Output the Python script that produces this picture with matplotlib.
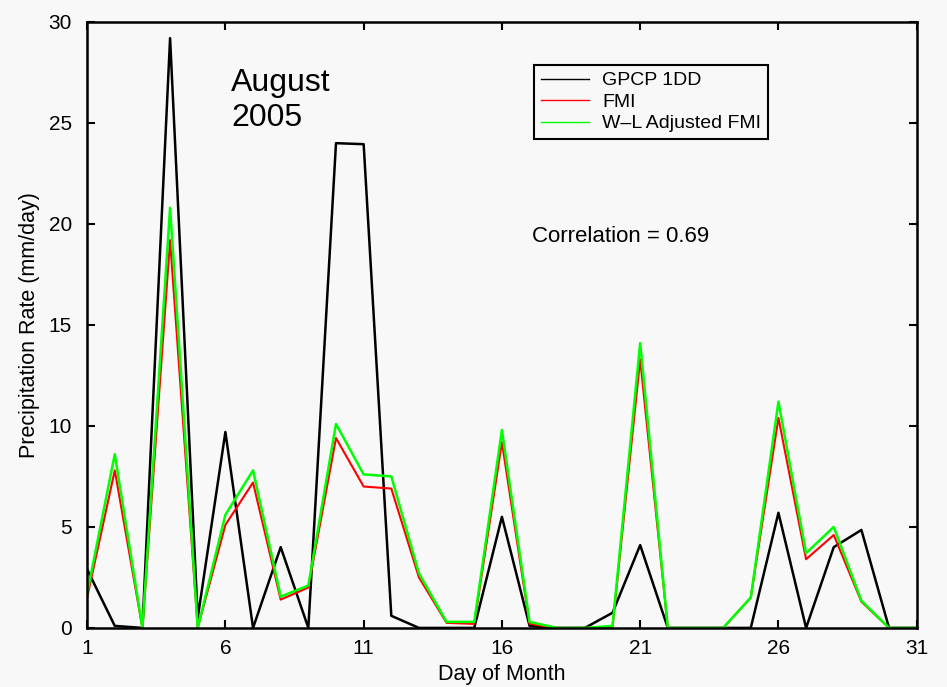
import numpy as np
import matplotlib
matplotlib.use("Agg")
import matplotlib.pyplot as plt

plt.rcParams['font.family'] = ['Liberation Sans', 'DejaVu Sans']

days = np.arange(1, 32)
gpcp = [2.9, 0.1, 0.0, 29.2, 0.5, 9.7, 0.0, 4.0, 0.0, 24.0,
        23.95, 0.6, 0.0, 0.0, 0.0, 5.5, 0.1, 0.0, 0.0, 0.75,
        4.1, 0.0, 0.0, 0.0, 0.0, 5.7, 0.0, 4.0, 4.85, 0.0, 0.0]
fmi = [1.5, 7.8, 0.0, 19.2, 0.0, 5.1, 7.2, 1.4, 2.0, 9.4,
       7.0, 6.9, 2.5, 0.25, 0.2, 9.2, 0.2, 0.0, 0.0, 0.05,
       13.3, 0.0, 0.0, 0.0, 1.5, 10.4, 3.4, 4.6, 1.3, 0.0, 0.0]
wl_fmi = [1.7, 8.6, 0.0, 20.8, 0.0, 5.6, 7.8, 1.55, 2.1, 10.1,
          7.6, 7.5, 2.7, 0.3, 0.3, 9.8, 0.3, 0.0, 0.0, 0.1,
          14.1, 0.0, 0.0, 0.0, 1.5, 11.2, 3.7, 5.0, 1.35, 0.0, 0.0]

bg = '#f8f8f8'
fig = plt.figure(figsize=(9.47, 6.87), dpi=100, facecolor=bg)
ax = fig.add_axes([0.092, 0.086, 0.876, 0.882], facecolor=bg)

ax.plot(days, gpcp, color='black', lw=1.8, label='GPCP 1DD')
ax.plot(days, fmi, color='#ff0000', lw=1.5, label='FMI')
ax.plot(days, wl_fmi, color='#00ff00', lw=1.8, label='W\u2013L Adjusted FMI')

ax.set_xlim(1, 31)
ax.set_ylim(0, 30)
ax.set_xticks([1, 6, 11, 16, 21, 26, 31])
ax.set_yticks([0, 5, 10, 15, 20, 25, 30])
ax.tick_params(direction='in', length=6, width=1.5, labelsize=15,
               top=True, right=True)
ax.tick_params(axis='x', pad=8)
ax.tick_params(axis='y', pad=11)
for s in ax.spines.values():
    s.set_linewidth(1.8)

ax.set_xlabel('Day of Month', fontsize=15.5, labelpad=4)
ax.set_ylabel('Precipitation Rate (mm/day)', fontsize=15.5, labelpad=6)

ax.text(6.2, 27.7, 'August\n2005', fontsize=23, va='top', ha='left',
        linespacing=1.18)
ax.text(17.1, 19.4, 'Correlation = 0.69', fontsize=16, va='center', ha='left')

leg = ax.legend(loc='upper left', bbox_to_anchor=(0.5386, 0.929),
                fontsize=14, frameon=True, fancybox=False, borderaxespad=0,
                handlelength=2.5, handletextpad=0.65, labelspacing=0.2,
                borderpad=0.35, facecolor=bg, framealpha=1)
leg.get_frame().set_edgecolor('black')
leg.get_frame().set_linewidth(1.5)
for h in leg.get_lines():
    h.set_linewidth(1.0)

fig.savefig('out.png', dpi=100, facecolor=bg)
